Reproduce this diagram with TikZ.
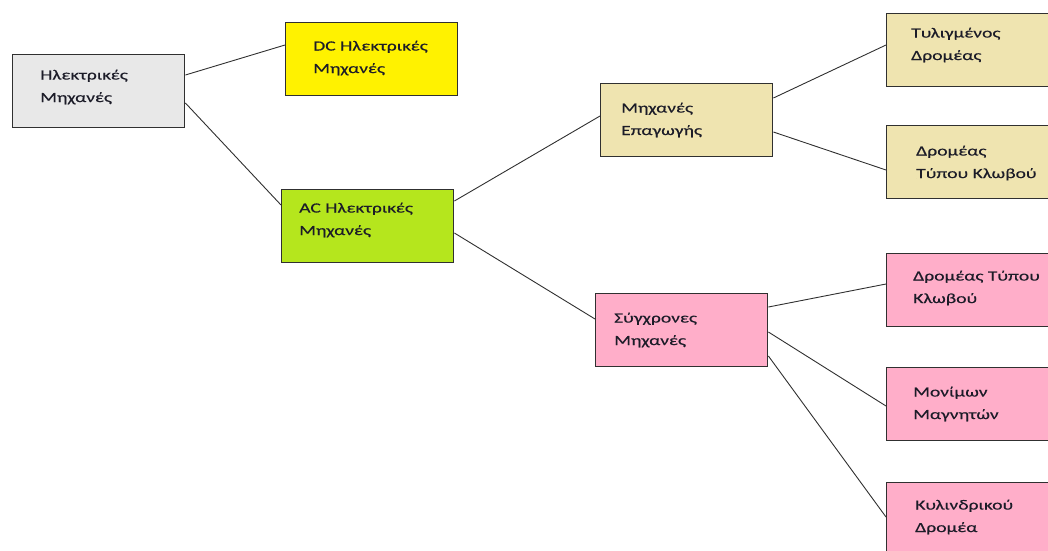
\documentclass[tikz,border=0pt]{standalone}
\usepackage{fontspec}
\setmainfont{Carlito}[FakeStretch=1.4, FakeBold=0.4]
\definecolor{rootgray}{HTML}{E8E8E8}
\definecolor{dcyellow}{HTML}{FFF200}
\definecolor{acgreen}{HTML}{B5E61D}
\definecolor{tan}{HTML}{EFE4B0}
\definecolor{pink}{HTML}{FFAEC9}
\definecolor{edge}{HTML}{303030}
\definecolor{ink}{HTML}{1C1C28}
\tikzset{
  x=1pt, y=-1pt,
  box/.style={draw=edge, line width=1.4pt, inner sep=0pt, anchor=north west,
              minimum width=172pt, minimum height=73pt},
  % anchored at the baseline of the second (last) line
  txt/.style={anchor=base west, align=left, inner sep=0pt, text=ink,
              font=\fontsize{14}{22.5}\selectfont},
  link/.style={draw=edge, line width=0.9pt}
}
\begin{document}
\begin{tikzpicture}
\path[use as bounding box] (0,0) rectangle (1048,550);
\clip (0,0) rectangle (1048,550);

% boxes
\node[box, fill=rootgray] (root) at (12,54) {};
\node[box, fill=dcyellow] (dc) at (285,22) {};
\node[box, fill=acgreen] (ac) at (281,189) {};
\node[box, fill=tan] (ind) at (600,83) {};
\node[box, fill=pink] (syn) at (595,293) {};
\node[box, fill=tan] (wound) at (886,13) {};
\node[box, fill=tan] (cageA) at (886,125) {};
\node[box, fill=pink] (cageB) at (886,253) {};
\node[box, fill=pink] (perm) at (886,367) {};
\node[box, fill=pink] (cyl) at (886,482) {};

% labels
\node[txt] (rootT) at (40,102) {Ηλεκτρικές\\Μηχανές};
\node[txt] (dcT) at (313,73) {DC Ηλεκτρικές\\Μηχανές};
\node[txt] (acT) at (299,235) {AC Ηλεκτρικές\\Μηχανές};
\node[txt] (indT) at (621,135) {Μηχανές\\Επαγωγής};
\node[txt] (synT) at (614,345) {Σύγχρονες\\Μηχανές};
\node[txt] (woundT) at (911,60) {Τυλιγμένος\\Δρομέας};
\node[txt] (cageAT) at (916,178) {Δρομέας\\Τύπου Κλωβού};
\node[txt] (cageBT) at (913,303) {Δρομέας Τύπου\\Κλωβού};
\node[txt] (permT) at (913,419) {Μονίμων\\Μαγνητών};
\node[txt] (cylT) at (915,532) {Κυλινδρικού\\Δρομέα};

% connectors
\draw[link] ([yshift=-21pt]root.north east) -- ([yshift=-23pt]dc.north west);
\draw[link] ([yshift=-49pt]root.north east) -- ([yshift=-16pt]ac.north west);
\draw[link] ([yshift=-12pt]ac.north east) -- ([yshift=-33pt]ind.north west);
\draw[link] ([yshift=-44pt]ac.north east) -- ([yshift=-26pt]syn.north west);
\draw[link] ([yshift=-15pt]ind.north east) -- ([yshift=-32pt]wound.north west);
\draw[link] ([yshift=-49pt]ind.north east) -- ([yshift=-45pt]cageA.north west);
\draw[link] ([yshift=-14pt]syn.north east) -- ([yshift=-31pt]cageB.north west);
\draw[link] ([yshift=-39pt]syn.north east) -- ([yshift=-39pt]perm.north west);
\draw[link] ([yshift=-63pt]syn.north east) -- ([yshift=-35pt]cyl.north west);
\end{tikzpicture}
\end{document}
